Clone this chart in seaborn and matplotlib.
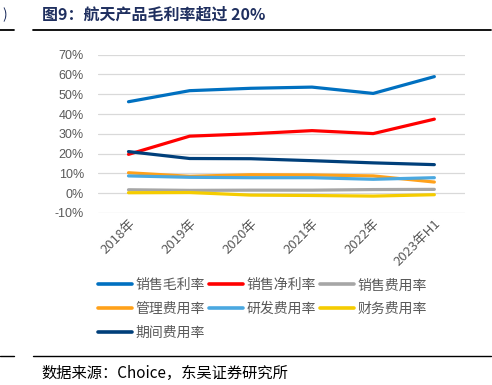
import numpy as np
import pandas as pd
import seaborn as sns
import matplotlib.pyplot as plt
from matplotlib.lines import Line2D

years = ["2018年", "2019年", "2020年", "2021年", "2022年", "2023年H1"]
gross_margin = [46.2, 51.8, 53.0, 53.6, 50.4, 58.9]
net_margin = [19.6, 28.8, 30.0, 31.6, 30.1, 37.4]
selling_exp = [1.7, 1.4, 1.5, 1.5, 1.8, 1.9]
admin_exp = [10.3, 8.5, 9.3, 9.2, 8.7, 5.6]
rd_exp = [8.7, 8.0, 7.8, 7.8, 7.0, 7.8]
finance_exp = [0.2, 0.3, -1.0, -1.2, -1.5, -0.8]
period_exp = [21.0, 17.5, 17.4, 16.4, 15.3, 14.4]

series = {
    "销售毛利率": gross_margin,
    "销售净利率": net_margin,
    "销售费用率": selling_exp,
    "管理费用率": admin_exp,
    "研发费用率": rd_exp,
    "财务费用率": finance_exp,
    "期间费用率": period_exp,
}
colors = ["#0070C0", "#FF0000", "#A6A6A6", "#FFA11A", "#4AA8E0", "#F5CC00", "#003F7A"]

rows = []
for name, vals in series.items():
    for i, v in enumerate(vals):
        rows.append({"x": i, "year": years[i], "name": name, "value": v})
df = pd.DataFrame(rows)

sns.set_style("white")
plt.rcParams["font.family"] = ["Noto Sans CJK SC", "DejaVu Sans"]

fig = plt.figure(figsize=(4.92, 3.85), dpi=100)
ax = fig.add_axes([0.199, 0.447, 0.746, 0.411])

sns.lineplot(data=df, x="x", y="value", hue="name", palette=colors,
             linewidth=2.3, ax=ax, legend=False)

ax.set_xlim(-0.5, 5.5)
ax.set_ylim(-10, 70)
ax.set_yticks(np.arange(-10, 71, 10))
ax.set_yticklabels([f"{t}%" for t in range(-10, 71, 10)], color="#595959", fontsize=9,
                   family=["Liberation Sans", "DejaVu Sans"])
ax.set_xticks(range(len(years)))
ax.set_xticklabels(years, rotation=45, ha="right", rotation_mode="anchor",
                   color="#595959", fontsize=9.5)
ax.tick_params(axis="y", length=0, pad=10)
ax.tick_params(axis="x", length=0, pad=3)
ax.grid(axis="y", color="#D9D9D9", linewidth=0.9)
ax.set_axisbelow(True)
for s in ax.spines.values():
    s.set_visible(False)
ax.set_xlabel("")
ax.set_ylabel("")

# legend filled row by row (matplotlib fills by column)
names = list(series.keys())
order = [0, 3, 6, 1, 4, 2, 5]
handles = [Line2D([], [], color=colors[i], linewidth=2.6) for i in order]
fig.legend(handles, [names[i] for i in order], loc="upper left",
           bbox_to_anchor=(0.2, 0.277), ncol=3, frameon=False, fontsize=10,
           handlelength=2.4, handletextpad=0.25, columnspacing=0.35,
           labelspacing=0.7, labelcolor="#595959", borderaxespad=0, borderpad=0)

# title and rules
fig.text(0.085, 0.962, "图9：航天产品毛利率超过 20%", fontsize=11.5, fontweight="bold",
         color="#1F2F5F", va="center")
fig.text(0.004, 0.962, ")", fontsize=10, color="#1F2F5F", va="center")
fig.add_artist(Line2D([0.067, 0.998], [0.923, 0.923], color="black", linewidth=1.3))
fig.add_artist(Line2D([0.0, 0.028], [0.923, 0.923], color="black", linewidth=1.3))
fig.add_artist(Line2D([0.067, 0.998], [0.075, 0.075], color="black", linewidth=1.0))
fig.add_artist(Line2D([0.0, 0.028], [0.075, 0.075], color="black", linewidth=1.0))
fig.text(0.085, 0.031, "数据来源：Choice，东吴证券研究所", fontsize=11, color="black", va="center")

fig.savefig("out.png", dpi=100)
